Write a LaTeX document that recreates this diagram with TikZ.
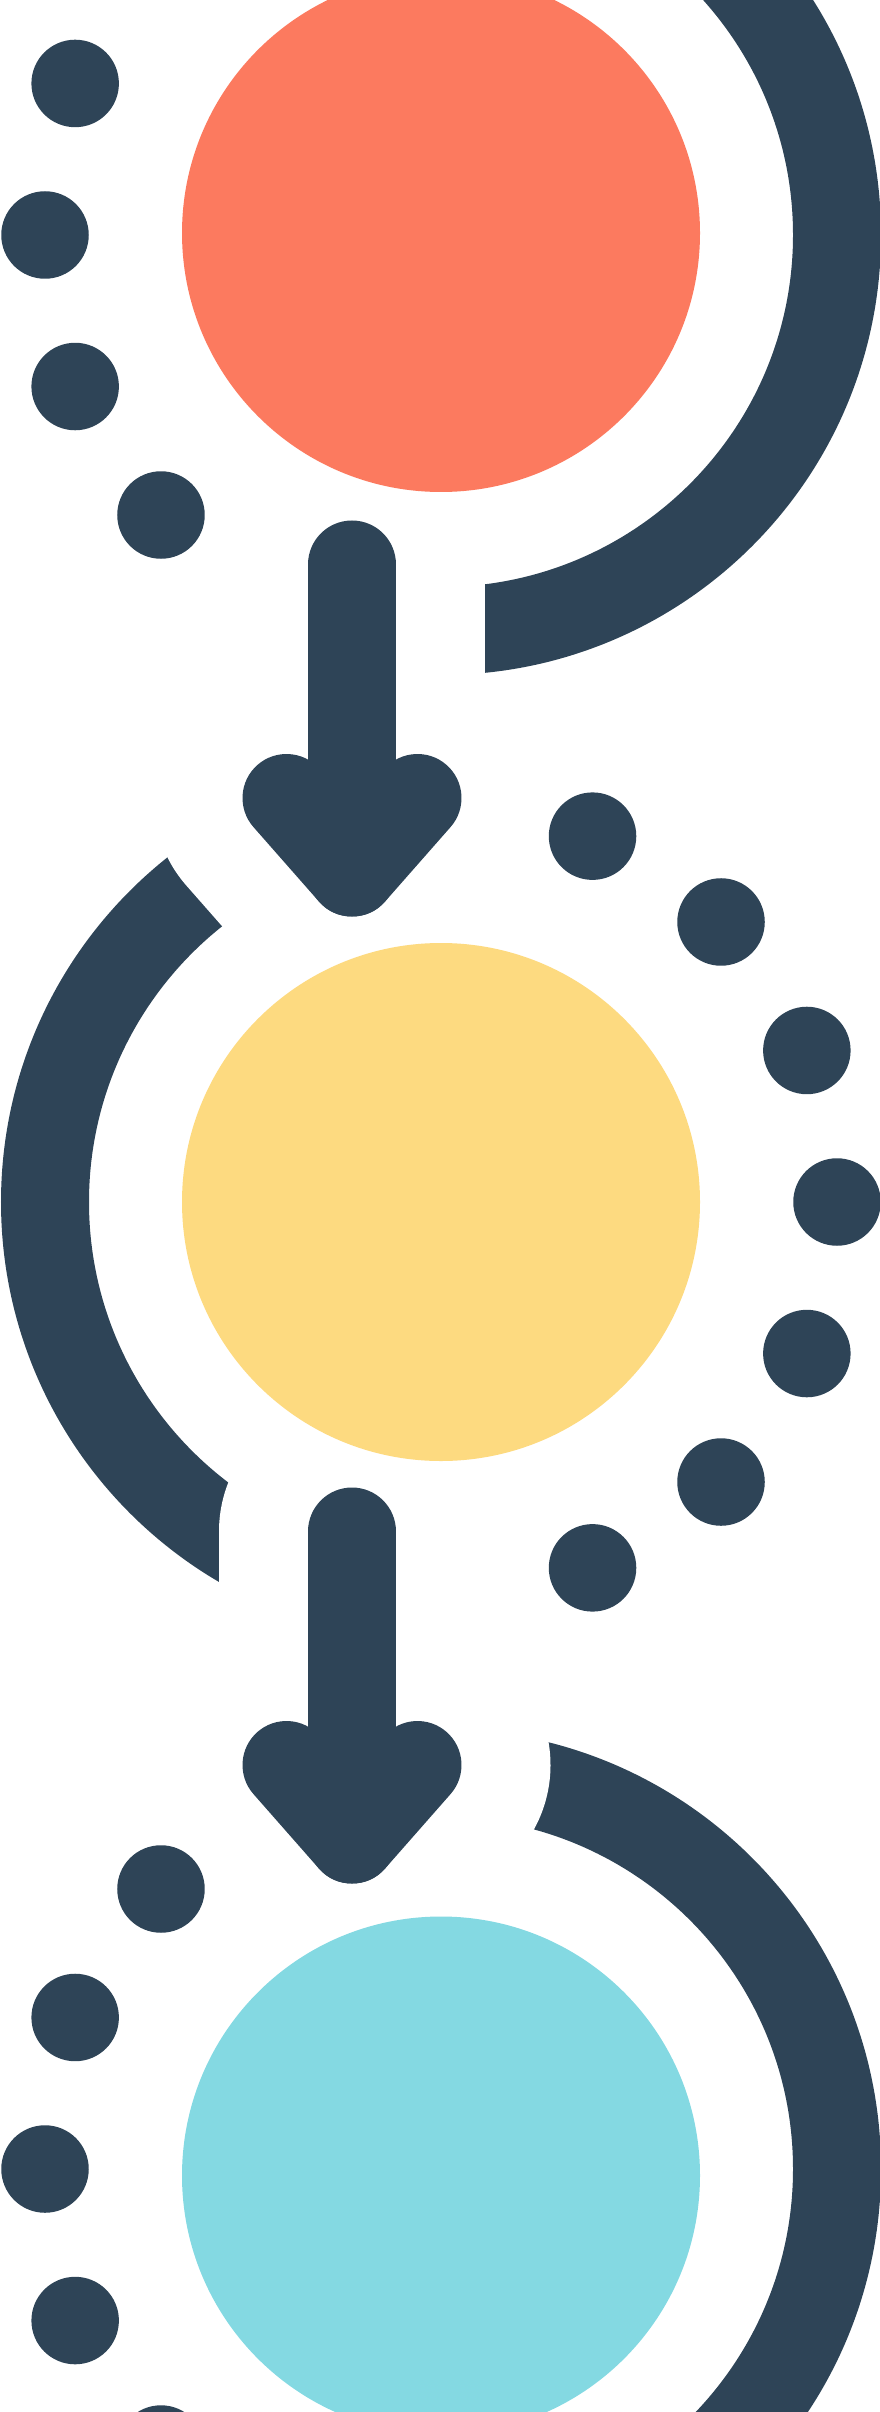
\documentclass[tikz,border=0pt]{standalone}
\usetikzlibrary{calc}
\definecolor{ink}{HTML}{2E4457}
\definecolor{coral}{HTML}{FC7A5F}
\definecolor{sun}{HTML}{FDDA80}
\definecolor{sky}{HTML}{84D9E2}
\tikzset{disc/.style={circle, inner sep = 0pt, minimum size = 51.8mm},
  spot/.style={circle, fill=ink, inner sep = 0pt, minimum size = 8.75mm},
  band/.style={draw = ink, line width = 8.8mm},
  shaft/.style={draw = ink, line width = 8.8mm, line cap = round, line join = round},
  knockout/.style={draw = white, line width = 26.6mm, line cap = round, line join = round}}

\begin{document}
\begin{tikzpicture}[x=0.1mm, y=0.1mm]
  \useasboundingbox (0,0) rectangle (880,-2412);
  \clip (0,0) rectangle (880,-2412);
  \coordinate (oc) at (441,-235);
  \coordinate (yc) at (441,-1202);
  \coordinate (cc) at (441,-2169);

  % arrows hang between two rings
  \foreach \c/\n in {oc/1, yc/2}{
    \coordinate (top\n) at ($(\c)+(-89,-329.5)$);
    \coordinate (tip\n) at ($(\c)+(-89,-637.5)$);
    \coordinate (left\n) at ($(\c)+(-154.5,-563)$);
    \coordinate (right\n) at ($(\c)+(-23.5,-563)$);
  }

  \draw[band] ($(oc)+(90:396)$) arc[start angle=90, end angle=-90, radius=396];
  \draw[band] ($(yc)+(90:396)$) arc[start angle=90, end angle=270, radius=396];
  \draw[band] ($(cc)+(90:396)$) arc[start angle=90, end angle=-90, radius=396];

  % white gap round the arrows cuts the bands
  \foreach \n in {1,2}{
    \draw[knockout] (top\n) -- (tip\n);
    \draw[knockout] (left\n) -- (tip\n) -- (right\n);
  }

  \node[disc, fill=coral] (orange) at (441,-233) {};
  \node[disc, fill=sun] (yellow) at (441,-1202) {};
  \node[disc, fill=sky] (cyan) at (441,-2175.5) {};

  \foreach \a [count=\i] in {135,157.5,180,202.5,225}{
    \node[spot] (o\i) at ($(oc)+(\a:396)$) {};
    \node[spot] (c\i) at ($(cc)+(\a:396)$) {};
  }
  \foreach \a [count=\i] in {-67.5,-45,-22.5,0,22.5,45,67.5}{
    \node[spot] (y\i) at ($(yc)+(\a:396)$) {};
  }

  \foreach \n in {1,2}{
    \draw[shaft] (top\n) -- (tip\n);
    \draw[shaft] (left\n) -- (tip\n) -- (right\n);
  }
\end{tikzpicture}
\end{document}
